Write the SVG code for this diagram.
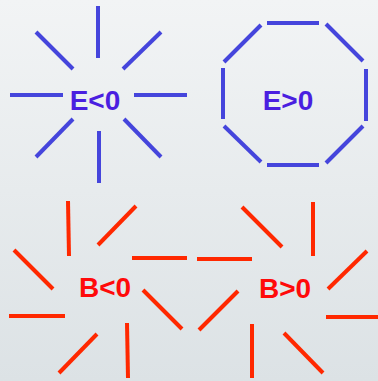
<svg xmlns="http://www.w3.org/2000/svg" width="378" height="381" viewBox="0 0 378 381">
<defs>
<linearGradient id="bg" x1="0" y1="0" x2="0" y2="1">
<stop offset="0" stop-color="#f2f4f5"/>
<stop offset="1" stop-color="#dce2e5"/>
</linearGradient>
<style>
.b{stroke:#4545dc;stroke-width:4;fill:none}
.r{stroke:#ff2800;stroke-width:4;fill:none}
.t{font-family:"Liberation Sans",Arial,sans-serif;font-weight:bold;font-size:28px;text-anchor:middle}
.tb{fill:#4a1fe0}
.tr{fill:#ff0a0a}
</style>
</defs>
<rect width="378" height="381" fill="url(#bg)"/>
<g id="connectors">
<g id="e-neg-rays">
<line class="b" x1="98" y1="6" x2="98" y2="58"/>
<line class="b" x1="36" y1="32" x2="73" y2="69"/>
<line class="b" x1="161" y1="32" x2="123" y2="69"/>
<line class="b" x1="10" y1="95" x2="63" y2="95"/>
<line class="b" x1="134" y1="95" x2="187" y2="95"/>
<line class="b" x1="73" y1="119" x2="36" y2="157"/>
<line class="b" x1="124" y1="119" x2="161" y2="157"/>
<line class="b" x1="99" y1="131" x2="99" y2="183"/>
</g>
<g id="e-pos-octagon">
<line class="b" x1="267" y1="23" x2="319" y2="23"/>
<line class="b" x1="326" y1="24" x2="363" y2="61"/>
<line class="b" x1="366" y1="69" x2="366" y2="121"/>
<line class="b" x1="363" y1="126" x2="326" y2="163"/>
<line class="b" x1="319" y1="165" x2="267" y2="165"/>
<line class="b" x1="261" y1="162" x2="224" y2="126"/>
<line class="b" x1="223" y1="68" x2="223" y2="119"/>
<line class="b" x1="224" y1="62" x2="261" y2="25"/>
</g>
<g id="b-neg-rays">
<line class="r" x1="68" y1="201" x2="69" y2="256"/>
<line class="r" x1="136" y1="206" x2="98" y2="245"/>
<line class="r" x1="132" y1="258" x2="187" y2="258"/>
<line class="r" x1="14" y1="250" x2="53" y2="289"/>
<line class="r" x1="143" y1="290" x2="182" y2="329"/>
<line class="r" x1="9" y1="316" x2="65" y2="316"/>
<line class="r" x1="97" y1="334" x2="59" y2="373"/>
<line class="r" x1="127" y1="323" x2="128" y2="378"/>
</g>
<g id="b-pos-rays">
<line class="r" x1="242" y1="207" x2="282" y2="247"/>
<line class="r" x1="313" y1="202" x2="313" y2="256"/>
<line class="r" x1="197" y1="259" x2="252" y2="259"/>
<line class="r" x1="367" y1="251" x2="328" y2="289"/>
<line class="r" x1="238" y1="291" x2="199" y2="330"/>
<line class="r" x1="326" y1="317" x2="378" y2="317"/>
<line class="r" x1="252" y1="324" x2="252" y2="378"/>
<line class="r" x1="284" y1="333" x2="323" y2="373"/>
</g>
</g>
<g id="node-e-neg"><text class="t tb" x="95" y="110">E&lt;0</text></g>
<g id="node-e-pos"><text class="t tb" x="288" y="110">E&gt;0</text></g>
<g id="node-b-neg"><text class="t tr" x="105" y="297">B&lt;0</text></g>
<g id="node-b-pos"><text class="t tr" x="285" y="298">B&gt;0</text></g>
</svg>
